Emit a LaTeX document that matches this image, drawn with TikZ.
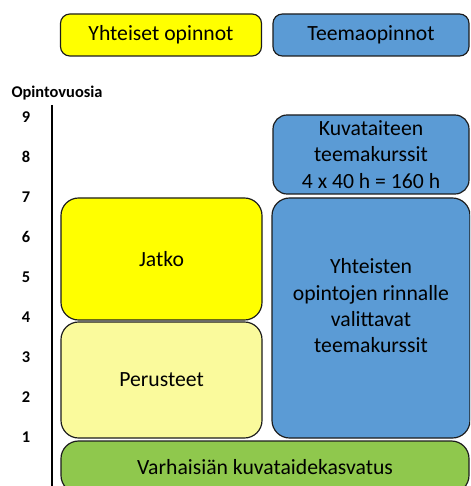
\documentclass[tikz,border=0pt]{standalone}
\usepackage{fontspec}
\setmainfont{Carlito}
\definecolor{keltainen}{HTML}{FFFF00}
\definecolor{vaalea}{HTML}{FAFA9C}
\definecolor{vihrea}{HTML}{8FC84D}
\definecolor{sininen}{HTML}{5B9BD5}
\definecolor{reuna}{HTML}{1C1C1C}
\newcommand{\yks}{0.03cm}

\begin{document}
\begin{tikzpicture}[x=\yks, y=-\yks,
    laatikko/.style={draw=reuna, line width=1pt, rounded corners=15pt, align=center,
        inner sep=0pt, font=\fontsize{18.5}{22.5}\selectfont},
    selite/.style={laatikko, rounded corners=8pt, minimum width=201*\yks, minimum height=42*\yks},
    vuosi/.style={font=\fontsize{14}{16}\selectfont\bfseries}]
    \useasboundingbox (0,0) rectangle (470,486);
    \clip (0,0) rectangle (470,486);

    % selitteet
    \node[selite, fill=keltainen] (yhteiset) at (161,35) {Yhteiset opinnot};
    \node[selite, fill=sininen, minimum width=196*\yks] (teema) at (371,35) {Teemaopinnot};

    % akseli
    \node[vuosi] (otsikko) at (57,93) {Opintovuosia};
    \coordinate (akseliyla) at (52,105);
    \coordinate (akseliala) at (52,490);
    \draw[line width=1.6pt] (akseliyla) -- (akseliala);
    \foreach \n in {1,...,9}
        \node[vuosi] (v\n) at (26,477-40*\n) {\n};

    % yhteiset opinnot
    \node[laatikko, fill=keltainen, minimum width=201*\yks, minimum height=122*\yks] (jatko) at (161.5,259) {Jatko};
    \node[laatikko, fill=vaalea, minimum width=201*\yks, minimum height=116*\yks] (perusteet) at (161.5,380) {Perusteet};

    % teemaopinnot
    \node[laatikko, fill=sininen, rounded corners=12pt, minimum width=196*\yks, minimum height=79*\yks] (kuvataide) at (371,154.5)
        {Kuvataiteen\\teemakurssit\\4 x 40 h = 160 h};
    \node[laatikko, fill=sininen, minimum width=198*\yks, minimum height=240*\yks] (rinnalle) at (371,318) {};
    \node[align=center, font=\fontsize{18.5}{22.5}\selectfont] (rinnalleteksti) at (371,306)
        {Yhteisten\\opintojen rinnalle\\valittavat\\teemakurssit};

    % pohja
    \node[laatikko, fill=vihrea, minimum width=408*\yks, minimum height=52*\yks] (varhais) at (265,467) {Varhaisiän kuvataidekasvatus};
\end{tikzpicture}
\end{document}
